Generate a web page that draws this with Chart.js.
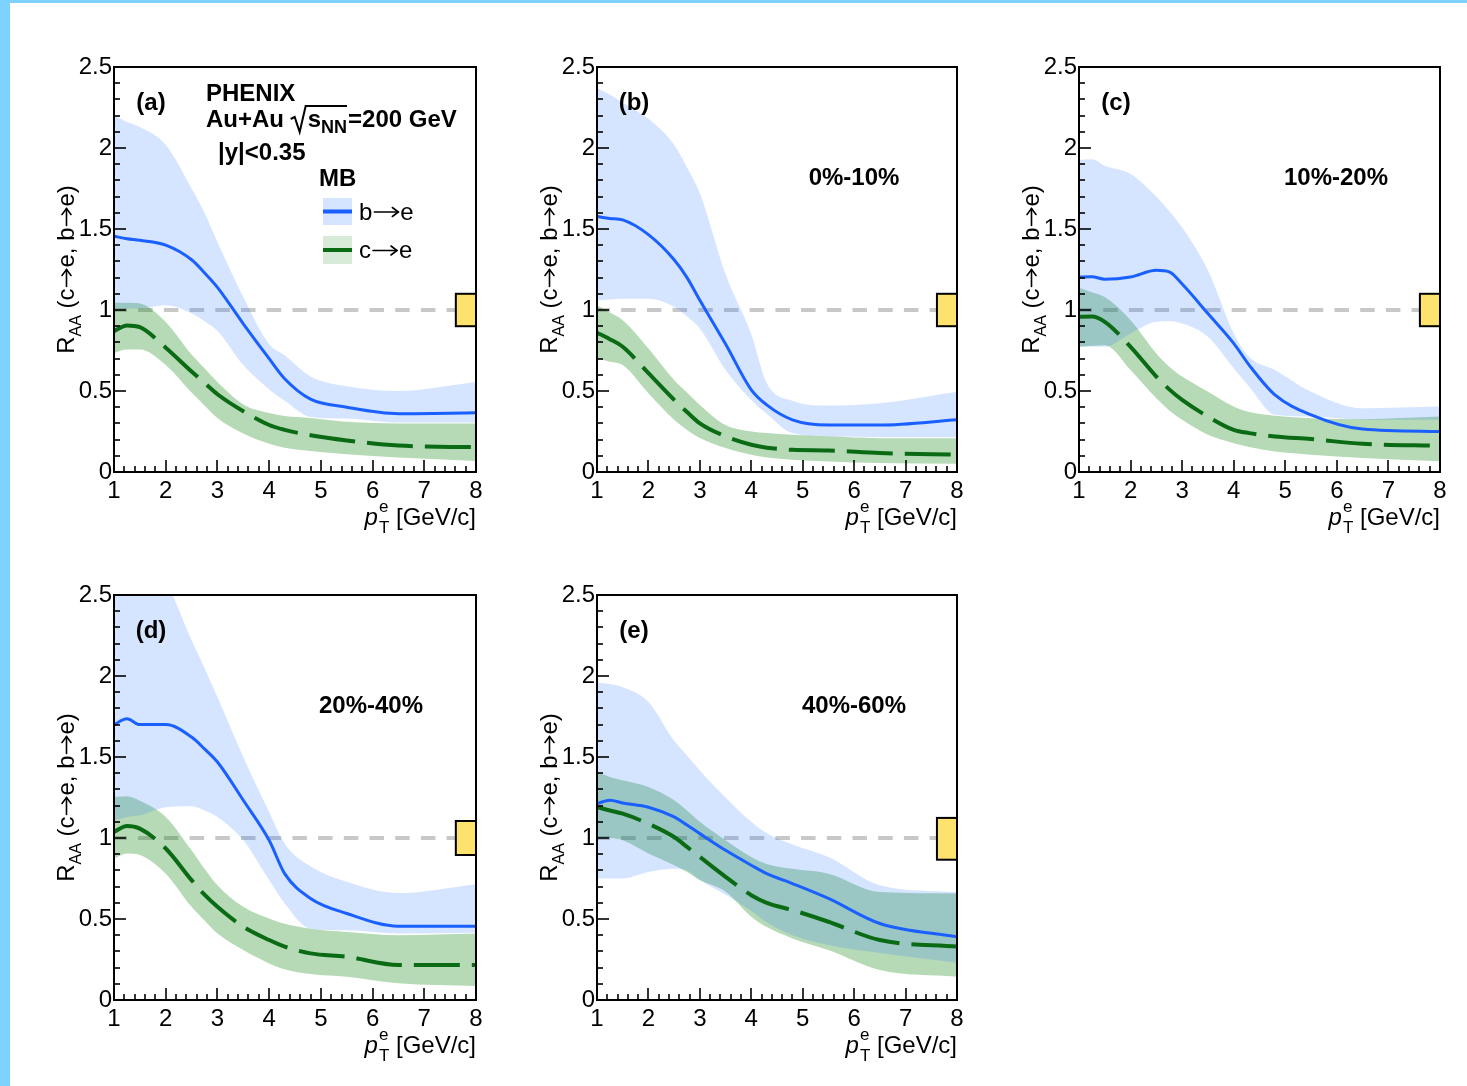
<!DOCTYPE html>
<html>
<head>
<meta charset="utf-8">
<script src="https://cdn.jsdelivr.net/npm/chart.js@4.4.1/dist/chart.umd.min.js"></script>
<style>
  html, body { margin: 0; padding: 0; background: #fff; width: 1467px; height: 1086px; overflow: hidden; }
  #edgeL { position: absolute; left: 0; top: 0; width: 10px; height: 1086px; background: #7dd3fd; }
  #edgeT { position: absolute; left: 0; top: 0; width: 1467px; height: 3px; background: #7dd3fd; }
  canvas { position: absolute; }
</style>
</head>
<body>
<div id="edgeL"></div>
<div id="edgeT"></div>
<canvas id="c0"></canvas>
<canvas id="c1"></canvas>
<canvas id="c2"></canvas>
<canvas id="c3"></canvas>
<canvas id="c4"></canvas>
<script>
// Electron transverse momentum grid, GeV/c
const pt = [1.0, 1.25, 1.5, 2.0, 2.5, 2.75, 3.0, 3.5, 4.0, 4.3, 4.8, 5.5, 6.5, 8.0];

// (a) minimum bias
const bMid_MB = [1.455, 1.44, 1.43, 1.40, 1.31, 1.23, 1.14, 0.915, 0.70, 0.576, 0.45, 0.40, 0.36, 0.365];
const bHi_MB  = [2.20, 2.16, 2.13, 2.02, 1.75, 1.60, 1.42, 1.08, 0.79, 0.72, 0.59, 0.53, 0.50, 0.555];
const bLo_MB  = [1.01, 1.01, 1.01, 1.03, 0.98, 0.93, 0.87, 0.66, 0.51, 0.44, 0.34, 0.33, 0.305, 0.305];
const cMid_MB = [0.87, 0.905, 0.894, 0.767, 0.62, 0.55, 0.48, 0.375, 0.29, 0.26, 0.227, 0.195, 0.163, 0.153];
const cHi_MB  = [1.047, 1.045, 1.04, 0.926, 0.725, 0.64, 0.555, 0.417, 0.364, 0.345, 0.333, 0.31, 0.30, 0.30];
const cLo_MB  = [0.735, 0.756, 0.756, 0.66, 0.49, 0.41, 0.333, 0.237, 0.174, 0.15, 0.13, 0.11, 0.089, 0.068];

// (b) 0%-10%
const bMid_0010 = [1.577, 1.565, 1.556, 1.465, 1.31, 1.20, 1.06, 0.79, 0.507, 0.414, 0.322, 0.29, 0.29, 0.322];
const bHi_0010  = [2.37, 2.33, 2.28, 2.18, 2.02, 1.88, 1.72, 1.22, 0.85, 0.55, 0.44, 0.41, 0.425, 0.496];
const bLo_0010  = [1.06, 1.065, 1.07, 1.07, 1.02, 0.96, 0.886, 0.63, 0.445, 0.36, 0.24, 0.22, 0.215, 0.215];
const cMid_0010 = [0.86, 0.82, 0.773, 0.61, 0.445, 0.37, 0.30, 0.22, 0.168, 0.15, 0.137, 0.133, 0.117, 0.107];
const cHi_0010  = [1.03, 0.985, 0.937, 0.763, 0.568, 0.49, 0.414, 0.29, 0.25, 0.24, 0.23, 0.22, 0.209, 0.209];
const cLo_0010  = [0.70, 0.68, 0.66, 0.486, 0.322, 0.26, 0.21, 0.148, 0.107, 0.09, 0.076, 0.065, 0.055, 0.051];

// (c) 10%-20%
const bMid_1020 = [1.204, 1.205, 1.19, 1.204, 1.245, 1.235, 1.16, 0.978, 0.794, 0.66, 0.476, 0.353, 0.265, 0.25];
const bHi_1020  = [1.926, 1.93, 1.89, 1.84, 1.70, 1.61, 1.51, 1.245, 0.855, 0.71, 0.63, 0.496, 0.394, 0.404];
const bLo_1020  = [0.773, 0.773, 0.773, 0.855, 0.927, 0.93, 0.917, 0.835, 0.64, 0.527, 0.353, 0.342, 0.322, 0.322];
const cMid_1020 = [0.958, 0.96, 0.927, 0.773, 0.589, 0.51, 0.445, 0.342, 0.26, 0.24, 0.219, 0.203, 0.174, 0.162];
const cHi_1020  = [1.138, 1.11, 1.08, 0.937, 0.732, 0.65, 0.589, 0.496, 0.404, 0.37, 0.347, 0.332, 0.326, 0.342];
const cLo_1020  = [0.773, 0.78, 0.783, 0.63, 0.455, 0.38, 0.322, 0.23, 0.178, 0.155, 0.127, 0.107, 0.086, 0.066];

// (d) 20%-40%
const bMid_2040 = [1.70, 1.736, 1.70, 1.70, 1.623, 1.55, 1.469, 1.233, 0.986, 0.78, 0.627, 0.534, 0.456, 0.456];
const bHi_2040  = [2.80, 2.78, 2.72, 2.58, 2.22, 2.05, 1.87, 1.50, 1.16, 0.965, 0.826, 0.73, 0.66, 0.715];
const bLo_2040  = [1.11, 1.13, 1.14, 1.19, 1.196, 1.17, 1.13, 0.986, 0.74, 0.596, 0.44, 0.43, 0.41, 0.415];
const cMid_2040 = [1.037, 1.074, 1.058, 0.935, 0.74, 0.65, 0.575, 0.452, 0.37, 0.33, 0.288, 0.267, 0.216, 0.216];
const cHi_2040  = [1.253, 1.257, 1.23, 1.13, 0.924, 0.81, 0.709, 0.575, 0.503, 0.47, 0.44, 0.42, 0.40, 0.41];
const cLo_2040  = [0.873, 0.904, 0.895, 0.78, 0.575, 0.49, 0.41, 0.308, 0.226, 0.19, 0.16, 0.144, 0.103, 0.086];

// (e) 40%-60%
const bMid_4060 = [1.212, 1.233, 1.216, 1.19, 1.13, 1.08, 1.027, 0.924, 0.832, 0.78, 0.719, 0.627, 0.472, 0.39];
const bHi_4060  = [1.96, 1.95, 1.93, 1.84, 1.60, 1.51, 1.417, 1.25, 1.10, 1.03, 0.96, 0.883, 0.709, 0.666];
const bLo_4060  = [0.75, 0.75, 0.75, 0.79, 0.81, 0.80, 0.74, 0.65, 0.55, 0.48, 0.40, 0.34, 0.29, 0.23];
const cMid_4060 = [1.19, 1.17, 1.15, 1.088, 1.006, 0.945, 0.883, 0.76, 0.647, 0.60, 0.555, 0.483, 0.37, 0.33];
const cHi_4060  = [1.407, 1.376, 1.356, 1.315, 1.233, 1.17, 1.10, 0.986, 0.883, 0.84, 0.81, 0.78, 0.666, 0.657];
const cLo_4060  = [1.006, 1.0, 0.986, 0.904, 0.832, 0.79, 0.74, 0.668, 0.514, 0.45, 0.38, 0.308, 0.185, 0.144];

// Global normalisation uncertainty drawn at the right edge (R_AA = 1 box)
const normLo = [0.90, 0.90, 0.90, 0.895, 0.866];
const normHi = [1.10, 1.10, 1.10, 1.105, 1.124];
const normBoxPt = [7.61, 8.0];

const panelTags = ['(a)', '(b)', '(c)', '(d)', '(e)'];
const centralities = ['MB', '0%-10%', '10%-20%', '20%-40%', '40%-60%'];
const xTickLabels = ['1', '2', '3', '4', '5', '6', '7', '8'];
const yTickLabels = ['0', '0.5', '1', '1.5', '2', '2.5'];

const series = [
  [bMid_MB, bHi_MB, bLo_MB, cMid_MB, cHi_MB, cLo_MB],
  [bMid_0010, bHi_0010, bLo_0010, cMid_0010, cHi_0010, cLo_0010],
  [bMid_1020, bHi_1020, bLo_1020, cMid_1020, cHi_1020, cLo_1020],
  [bMid_2040, bHi_2040, bLo_2040, cMid_2040, cHi_2040, cLo_2040],
  [bMid_4060, bHi_4060, bLo_4060, cMid_4060, cHi_4060, cLo_4060]
];

// Page layout: plot frame edges of each pad
const frames = [
  { L: 114, R: 476, T: 67, B: 472 },
  { L: 597, R: 957, T: 67, B: 472 },
  { L: 1079, R: 1440, T: 67, B: 472 },
  { L: 114, R: 476, T: 595, B: 1000 },
  { L: 597, R: 957, T: 595, B: 1000 }
];
const PAD_L = 100, PAD_R = 22, PAD_T = 30, PAD_B = 75;

const FONT = '"Liberation Sans", Arial, Helvetica, sans-serif';
const BLUE = '#1a5fff';
const GREEN = '#0b6b14';
const BLUE_BAND = 'rgba(30,110,255,0.18)';
const GREEN_BAND = 'rgba(0,128,0,0.29)';

Chart.defaults.font.family = FONT;
Chart.defaults.color = '#000';

const xy = arr => pt.map((x, i) => ({ x: x, y: arr[i] }));

function f(size, weight, style) {
  return (style || '') + ' ' + (weight || '') + ' ' + size + 'px ' + FONT;
}

function line(ctx, x1, y1, x2, y2) {
  ctx.beginPath(); ctx.moveTo(x1, y1); ctx.lineTo(x2, y2); ctx.stroke();
}

// Rich text: list of {t, font, dy} text pieces or {arrow: length} pieces
function richWidth(ctx, parts) {
  let w = 0;
  parts.forEach(p => {
    if (p.arrow) { w += p.arrow; }
    else { ctx.font = p.font; w += ctx.measureText(p.t).width; }
  });
  return w;
}
function drawRich(ctx, parts, x, y) {
  parts.forEach(p => {
    if (p.arrow) {
      const ay = y - 7.5;
      const x1 = x + 2, x2 = x + p.arrow - 2;
      ctx.save();
      ctx.strokeStyle = ctx.fillStyle;
      ctx.lineWidth = 1.6;
      ctx.lineCap = 'round';
      line(ctx, x1, ay, x2, ay);
      ctx.beginPath();
      ctx.moveTo(x2 - 6, ay - 4.5);
      ctx.lineTo(x2, ay);
      ctx.lineTo(x2 - 6, ay + 4.5);
      ctx.stroke();
      ctx.restore();
      x += p.arrow;
    } else {
      ctx.font = p.font;
      ctx.fillText(p.t, x, y + (p.dy || 0));
      x += ctx.measureText(p.t).width;
    }
  });
}

function drawYTitle(ctx, a) {
  ctx.save();
  ctx.translate(a.left - 40, (a.top + a.bottom) / 2);
  ctx.rotate(-Math.PI / 2);
  ctx.fillStyle = '#000';
  ctx.textAlign = 'left';
  ctx.textBaseline = 'alphabetic';
  const parts = [
    { t: 'R', font: f(24) }, { t: 'AA', font: f(16), dy: 7 },
    { t: ' (c', font: f(24) }, { arrow: 21 }, { t: 'e, b', font: f(24) }, { arrow: 21 },
    { t: 'e)', font: f(24) }
  ];
  const w = richWidth(ctx, parts);
  drawRich(ctx, parts, -w / 2, 0);
  ctx.restore();
}

function drawXTitle(ctx, a) {
  ctx.save();
  ctx.fillStyle = '#000';
  ctx.textAlign = 'left';
  ctx.textBaseline = 'alphabetic';
  const bl = a.bottom + 53;
  const rest = ' [GeV/c]';
  ctx.font = f(24, '', 'italic'); const wp = ctx.measureText('p').width;
  ctx.font = f(17); const we = ctx.measureText('e').width; const wT = ctx.measureText('T').width;
  ctx.font = f(24); const wRest = ctx.measureText(rest).width;
  const wSS = Math.max(we, wT);
  let x = a.right - (wp + 1 + wSS + wRest);
  ctx.font = f(24, '', 'italic'); ctx.fillText('p', x, bl); x += wp + 1;
  ctx.font = f(17); ctx.fillText('e', x, bl - 13); ctx.fillText('T', x, bl + 8); x += wSS;
  ctx.font = f(24); ctx.fillText(rest, x, bl);
  ctx.restore();
}

function drawHeader(ctx, a) {
  ctx.save();
  ctx.fillStyle = '#000';
  ctx.strokeStyle = '#000';
  ctx.textAlign = 'left';
  ctx.textBaseline = 'alphabetic';
  const x0 = a.left + 92;
  ctx.font = f(24, 'bold');
  ctx.fillText('PHENIX', x0, a.top + 34);
  // Au+Au sqrt(s_NN)=200 GeV
  const bl = a.top + 60;
  let x = x0;
  ctx.fillText('Au+Au ', x, bl); x += ctx.measureText('Au+Au ').width;
  const rx = x;
  x += 17;
  ctx.fillText('s', x, bl); x += ctx.measureText('s').width;
  ctx.font = f(18, 'bold');
  ctx.fillText('NN', x, bl + 6); x += ctx.measureText('NN').width;
  ctx.lineWidth = 2;
  ctx.beginPath();
  ctx.moveTo(rx, bl - 8);
  ctx.lineTo(rx + 4, bl - 10);
  ctx.lineTo(rx + 9, bl + 5);
  ctx.lineTo(rx + 15, bl - 21);
  ctx.lineTo(x, bl - 21);
  ctx.stroke();
  ctx.font = f(24, 'bold');
  ctx.fillText('=200 GeV', x + 1, bl);
  ctx.fillText('|y|<0.35', a.left + 104, a.top + 93);
  ctx.fillText('MB', a.left + 205, a.top + 119);
  // legend entries
  const entries = [
    { fill: 'rgb(214,229,255)', col: BLUE, t1: 'b', t2: 'e', top: a.top + 131, h: 27 },
    { fill: 'rgb(216,234,216)', col: GREEN, t1: 'c', t2: 'e', top: a.top + 169, h: 28 }
  ];
  entries.forEach(e => {
    const bx = a.left + 209, bw = 29;
    ctx.fillStyle = e.fill;
    ctx.fillRect(bx, e.top, bw, e.h);
    ctx.strokeStyle = e.col;
    ctx.lineWidth = 4;
    const cy = e.top + e.h / 2;
    line(ctx, bx, cy, bx + bw, cy);
    ctx.fillStyle = '#000';
    drawRich(ctx, [{ t: e.t1, font: f(24) }, { arrow: 28 }, { t: e.t2, font: f(24) }], a.left + 245, cy + 8);
  });
  ctx.restore();
}

function makeDecor(idx) {
  return {
    id: 'decor' + idx,
    beforeDatasetsDraw(chart) {
      const { ctx, chartArea: a, scales: { y } } = chart;
      const py = y.getPixelForValue(1);
      ctx.save();
      ctx.beginPath();
      ctx.rect(a.left, a.top, a.right - a.left, a.bottom - a.top);
      ctx.clip();
      ctx.strokeStyle = '#c8c8c8';
      ctx.lineWidth = 4;
      ctx.setLineDash([14.5, 11.2]);
      line(ctx, a.left - 1.5, py, a.right, py);
      ctx.restore();
    },
    afterDatasetsDraw(chart) {
      const { ctx, chartArea: a, scales: { x, y } } = chart;
      ctx.save();
      // normalisation box
      const bx1 = x.getPixelForValue(normBoxPt[0]), bx2 = x.getPixelForValue(normBoxPt[1]);
      const by1 = y.getPixelForValue(normHi[idx]), by2 = y.getPixelForValue(normLo[idx]);
      ctx.fillStyle = '#fde36e';
      ctx.fillRect(bx1, by1, bx2 - bx1, by2 - by1);
      ctx.strokeStyle = '#000';
      ctx.lineWidth = 2;
      ctx.strokeRect(bx1, by1, bx2 - bx1, by2 - by1);
      // inward ticks
      ctx.lineWidth = 1.6;
      for (let k = 0; k <= 25; k++) {
        const py = Math.round(y.getPixelForValue(k / 10));
        const len = (k % 5 === 0) ? 12 : 6;
        line(ctx, a.left, py, a.left + len, py);
      }
      for (let k = 0; k <= 35; k++) {
        const px = Math.round(x.getPixelForValue(1 + k * 0.2));
        const len = (k % 5 === 0) ? 12 : 6;
        line(ctx, px, a.bottom, px, a.bottom - len);
      }
      // frame
      ctx.lineWidth = 2;
      ctx.strokeRect(a.left, a.top, a.right - a.left, a.bottom - a.top);
      // labels
      ctx.fillStyle = '#000';
      ctx.font = f(24, 'bold');
      ctx.textAlign = 'center';
      ctx.textBaseline = 'middle';
      ctx.fillText(panelTags[idx], a.left + 37, a.top + 36);
      if (idx === 0) {
        drawHeader(ctx, a);
      } else {
        ctx.fillText(centralities[idx], a.left + 257, a.top + 111);
      }
      ctx.restore();
      drawYTitle(ctx, a);
      drawXTitle(ctx, a);
    }
  };
}

frames.forEach((fr, idx) => {
  const cv = document.getElementById('c' + idx);
  const W = fr.R - fr.L + PAD_L + PAD_R;
  const H = fr.B - fr.T + PAD_T + PAD_B;
  cv.width = W; cv.height = H;
  cv.style.left = (fr.L - PAD_L) + 'px';
  cv.style.top = (fr.T - PAD_T) + 'px';
  cv.style.width = W + 'px';
  cv.style.height = H + 'px';
  const [bMid, bHi, bLo, cMid, cHi, cLo] = series[idx];
  const band = { borderWidth: 0, borderColor: 'rgba(0,0,0,0)', pointRadius: 0, cubicInterpolationMode: 'monotone' };
  new Chart(cv, {
    type: 'line',
    data: {
      datasets: [
        Object.assign({ label: 'c band hi', data: xy(cHi), fill: '+1', backgroundColor: GREEN_BAND, order: 3 }, band),
        Object.assign({ label: 'c band lo', data: xy(cLo), fill: false, order: 3 }, band),
        Object.assign({ label: 'b band hi', data: xy(bHi), fill: '+1', backgroundColor: BLUE_BAND, order: 2 }, band),
        Object.assign({ label: 'b band lo', data: xy(bLo), fill: false, order: 2 }, band),
        { label: 'c\u2192e', data: xy(cMid), fill: false, borderColor: GREEN, borderWidth: 4,
          borderDash: [46, 12], pointRadius: 0, cubicInterpolationMode: 'monotone', order: 1 },
        { label: 'b\u2192e', data: xy(bMid), fill: false, borderColor: BLUE, borderWidth: 3,
          pointRadius: 0, cubicInterpolationMode: 'monotone', borderJoinStyle: 'round', order: 0 }
      ]
    },
    options: {
      responsive: false,
      animation: false,
      devicePixelRatio: 1,
      layout: { padding: { left: 0, top: PAD_T, right: PAD_R, bottom: 0 } },
      plugins: { legend: { display: false }, tooltip: { enabled: false }, title: { display: false } },
      scales: {
        x: {
          type: 'linear', min: 1, max: 8,
          afterFit(s) { s.height = PAD_B; },
          grid: { display: false, drawTicks: false },
          border: { display: false },
          ticks: {
            stepSize: 1, autoSkip: false, maxRotation: 0, padding: 5,
            font: { size: 24 }, color: '#000',
            callback: (v, i) => xTickLabels[i]
          }
        },
        y: {
          type: 'linear', min: 0, max: 2.5,
          afterFit(s) { s.width = PAD_L; },
          grid: { display: false, drawTicks: false },
          border: { display: false },
          ticks: {
            stepSize: 0.5, autoSkip: false, padding: 2,
            font: { size: 24 }, color: '#000',
            callback: (v, i) => yTickLabels[i]
          }
        }
      }
    },
    plugins: [makeDecor(idx)]
  });
});
</script>
</body>
</html>
